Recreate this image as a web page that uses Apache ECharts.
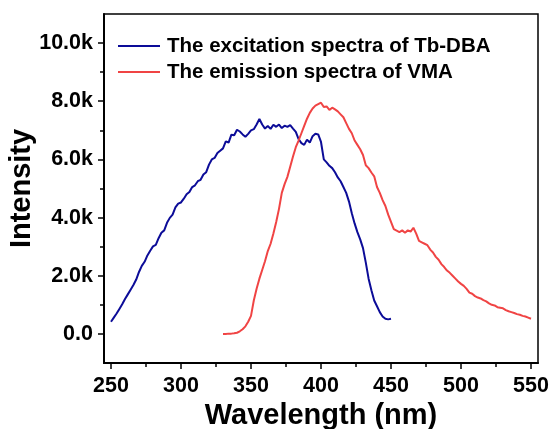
<!DOCTYPE html>
<html><head><meta charset="utf-8">
<script src="https://cdn.jsdelivr.net/npm/echarts@6/dist/echarts.min.js"></script>
<style>html,body{margin:0;padding:0;background:#fff}#c{width:551px;height:429px}</style>
</head><body><div id="c"></div>
<script>
// Excitation spectrum of Tb-DBA: wavelengths start at 250 nm, 2 nm sampling
const excStart = 250, excStep = 2;
const excitation = [
420,560,700,860,1020,1200,1360,1520,1680,1870,
2130,2340,2480,2700,2860,3010,3060,3290,3480,3560,
3820,3990,4100,4350,4480,4520,4650,4800,4880,5050,
5110,5250,5300,5480,5560,5820,6000,6050,6220,6300,
6380,6620,6580,6850,6830,7020,6960,6860,6780,6880,
7000,7040,7200,7390,7200,7060,7150,7050,7190,7120,
7200,7080,7160,7120,7180,7060,6950,6700,6560,6500,
6680,6580,6800,6880,6860,6600,6000,5900,5780,5700,
5560,5380,5250,5050,4850,4550,4150,3800,3500,3250,
2950,2450,1900,1500,1150,950,750,600,520,500,520];
// Emission spectrum of VMA: wavelengths start at 330 nm, 2 nm sampling
const emStart = 330, emStep = 2;
const emission = [
0,0,10,10,20,40,90,160,260,420,
620,1150,1550,1900,2200,2500,2850,3100,3450,3850,
4300,4850,5150,5400,5750,6100,6420,6650,6900,7150,
7400,7600,7750,7850,7900,7950,7800,7820,7700,7780,
7720,7650,7550,7450,7250,7050,6900,6650,6500,6350,
6150,5800,5700,5550,5420,5050,4850,4600,4400,4100,
3850,3600,3550,3500,3560,3480,3560,3520,3650,3450,
3200,3150,3100,3050,2900,2800,2650,2550,2400,2300,
2180,2100,2000,1900,1800,1720,1650,1550,1420,1380,
1300,1250,1220,1160,1120,1050,1000,980,920,900,
880,820,780,750,720,680,660,620,600,560,520];
const seriesNames = ['The excitation spectra of Tb-DBA', 'The emission spectra of VMA'];
const xTickMin = 250, xTickMax = 550, xTickStep = 50, xMinorStep = 25;
const yTickMin = 0, yTickMax = 10000, yTickStep = 2000, yMinorStep = 1000;
const xTitle = 'Wavelength (nm)', yTitle = 'Intensity';

const toPairs = (start, step, arr) => arr.map((v, i) => [start + i * step, v]);
const FONT = '"Liberation Sans", Arial, sans-serif';

// plot box geometry (pixels)
const L = 104, T = 14, W = 434, H = 349;
const xMin = 245, xMax = 555, yMin = -1000, yMax = 11000;
const pxX = W / (xMax - xMin), pxY = H / (yMax - yMin);

const hidden = {axisLine: {show: false}, splitLine: {show: false}, axisTick: {show: false}, axisLabel: {show: false}};
const tickStyle = {color: '#000', width: 1.5};
const labelStyle = {color: '#000', fontFamily: FONT, fontWeight: 'bold', fontSize: 21.5};
const nameStyle = {color: '#000', fontFamily: FONT, fontWeight: 'bold', fontSize: 29};
const gridBase = {containLabel: false, outerBoundsMode: 'none'};

const chart = echarts.init(document.getElementById('c'), null, {renderer: 'canvas'});
chart.setOption({
  animation: false,
  backgroundColor: '#fff',
  grid: [
    Object.assign({left: L, top: T, width: W, height: H, show: true, borderColor: '#000', borderWidth: 1.5}, gridBase),
    Object.assign({left: L + (xTickMin - xMin) * pxX, width: (xTickMax - xTickMin) * pxX, top: T, height: H}, gridBase),
    Object.assign({left: L, width: W, top: T + (yMax - yTickMax) * pxY, height: (yTickMax - yTickMin) * pxY}, gridBase)
  ],
  xAxis: [
    {gridIndex: 0, type: 'value', min: xMin, max: xMax, position: 'bottom',
     axisLine: {show: true, onZero: false, lineStyle: {color: '#000', width: 2}},
     axisTick: {show: false}, axisLabel: {show: false}, splitLine: {show: false}},
    {gridIndex: 1, type: 'value', min: xTickMin, max: xTickMax, interval: xTickStep, position: 'bottom',
     axisLine: {show: false, onZero: false}, splitLine: {show: false},
     axisTick: {show: true, inside: false, length: 6, lineStyle: tickStyle},
     axisLabel: Object.assign({show: true, margin: 12}, labelStyle),
     name: xTitle, nameLocation: 'middle', nameGap: 35, nameTextStyle: nameStyle},
    {gridIndex: 1, type: 'value', min: xTickMin, max: xTickMax, interval: xMinorStep, position: 'bottom', offset: 0,
     axisLine: {show: false, onZero: false}, splitLine: {show: false}, axisLabel: {show: false},
     axisTick: {show: true, inside: false, length: 4, lineStyle: tickStyle}},
    Object.assign({gridIndex: 2, type: 'value', min: xMin, max: xMax}, hidden)
  ],
  yAxis: [
    {gridIndex: 0, type: 'value', min: yMin, max: yMax, position: 'left',
     axisLine: {show: true, onZero: false, lineStyle: {color: '#000', width: 2}},
     axisTick: {show: false}, axisLabel: {show: false}, splitLine: {show: false}},
    Object.assign({gridIndex: 1, type: 'value', min: yMin, max: yMax}, hidden),
    {gridIndex: 2, type: 'value', min: yTickMin, max: yTickMax, interval: yTickStep, position: 'left',
     axisLine: {show: false, onZero: false}, splitLine: {show: false},
     axisTick: {show: true, inside: false, length: 6, lineStyle: tickStyle},
     axisLabel: Object.assign({show: true, margin: 11,
       formatter: v => v === 0 ? '0.0' : (v / 1000).toFixed(1) + 'k'}, labelStyle),
     name: yTitle, nameLocation: 'middle', nameGap: 68, nameRotate: 90, nameMoveOverlap: false, nameTextStyle: nameStyle},
    {gridIndex: 2, type: 'value', min: yTickMin, max: yTickMax, interval: yMinorStep, position: 'left', offset: 0,
     axisLine: {show: false, onZero: false}, splitLine: {show: false}, axisLabel: {show: false},
     axisTick: {show: true, inside: false, length: 4, lineStyle: tickStyle}}
  ],
  legend: {
    orient: 'vertical', left: 118, top: 35.5, padding: 0, itemGap: 5,
    itemWidth: 42, itemHeight: 2, icon: 'rect',
    data: seriesNames,
    textStyle: {color: '#000', fontFamily: FONT, fontWeight: 'bold', fontSize: 20.5, lineHeight: 21, padding: [0, 0, 0, 2]}
  },
  series: [
    {name: seriesNames[0], type: 'line', xAxisIndex: 0, yAxisIndex: 0, symbol: 'none', smooth: false,
     color: '#0c0c98', lineStyle: {width: 2, color: '#0c0c98'}, data: toPairs(excStart, excStep, excitation)},
    {name: seriesNames[1], type: 'line', xAxisIndex: 0, yAxisIndex: 0, symbol: 'none', smooth: false,
     color: '#f04444', lineStyle: {width: 2, color: '#f04444'}, data: toPairs(emStart, emStep, emission)}
  ]
});
</script>
</body></html>
